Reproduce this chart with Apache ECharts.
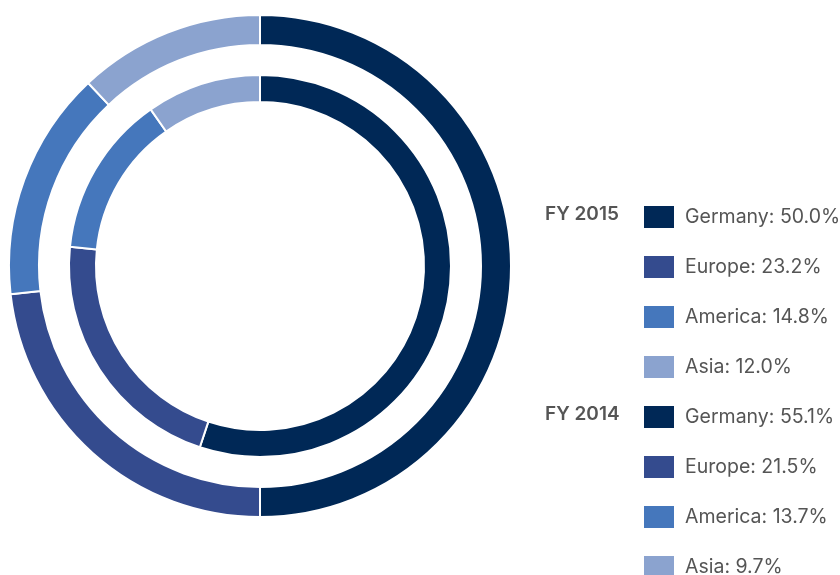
<!DOCTYPE html>
<html style="height: 100%">

<head>
    <meta charset="utf-8">
</head>

<body style="height: 100%; margin: 0; background: #fff">
    <div id="container" style="width: 840px; height: 575px"></div>
    <script type="text/javascript" src="https://cdn.jsdelivr.net/npm/echarts@6/dist/echarts.min.js"></script>
    <script type="text/javascript">
        var regions = ['Germany', 'Europe', 'America', 'Asia'];
        var colors = ['#002856', '#344b8e', '#4577bc', '#8ba3cf'];
        var values2015 = [50.0, 23.2, 14.8, 12.0];
        var values2014 = [55.1, 21.5, 13.7, 9.7];
        var yearLabels = ['FY 2015', 'FY 2014'];

        var dom = document.getElementById('container');
        var myChart = echarts.init(dom);

        function toData(values) {
            return regions.map(function (name, i) {
                return { name: name, value: values[i], itemStyle: { color: colors[i] } };
            });
        }

        function legendFor(values, top) {
            return {
                orient: 'vertical',
                left: 642,
                top: top,
                width: 200,
                height: 300,
                padding: 0,
                itemWidth: 32,
                itemHeight: 24,
                itemGap: 24,
                icon: 'rect',
                selectedMode: false,
                data: regions,
                formatter: function (name) {
                    return name + ': ' + values[regions.indexOf(name)].toFixed(1) + '%';
                },
                textStyle: {
                    color: '#555',
                    fontSize: 19.5,
                    lineHeight: 24,
                    fontFamily: 'Inter',
                    padding: [0, 0, 0, 5]
                }
            };
        }

        var labelStyle = { fill: '#555', font: '600 19px Inter', textVerticalAlign: 'middle' };

        var option = {
            backgroundColor: '#fff',
            animation: false,
            legend: [legendFor(values2015, 204), legendFor(values2014, 404)],
            graphic: [
                { type: 'text', left: 545, top: 205, style: Object.assign({ text: yearLabels[0] }, labelStyle) },
                { type: 'text', left: 545, top: 405, style: Object.assign({ text: yearLabels[1] }, labelStyle) }
            ],
            series: [{
                name: yearLabels[0],
                type: 'pie',
                center: [260, 266],
                radius: [221, 251],
                startAngle: 90,
                clockwise: true,
                silent: true,
                label: { show: false },
                labelLine: { show: false },
                itemStyle: { borderColor: '#fff', borderWidth: 2 },
                data: toData(values2015)
            }, {
                name: yearLabels[1],
                type: 'pie',
                center: [260, 266],
                radius: [164, 191],
                startAngle: 90,
                clockwise: true,
                silent: true,
                label: { show: false },
                labelLine: { show: false },
                itemStyle: { borderColor: '#fff', borderWidth: 2 },
                data: toData(values2014)
            }]
        };

        myChart.setOption(option);
    </script>
</body>

</html>
